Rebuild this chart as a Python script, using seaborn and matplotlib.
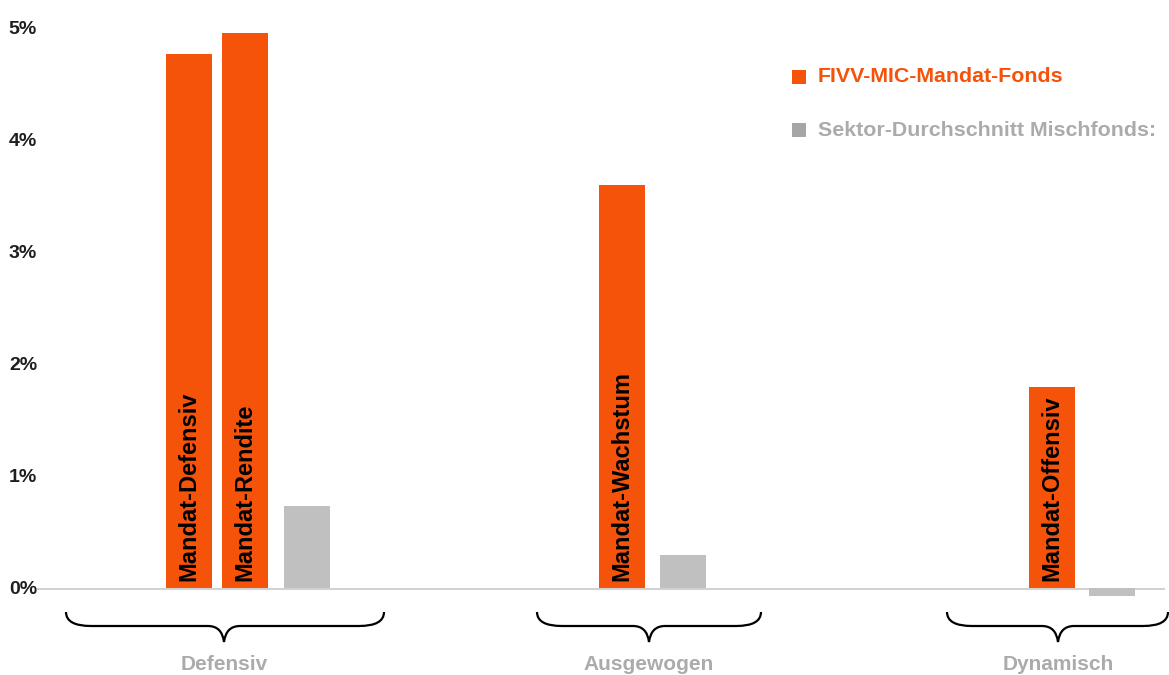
import numpy as np
import pandas as pd
import matplotlib
matplotlib.use("Agg")
import matplotlib.pyplot as plt
import seaborn as sns
from matplotlib.path import Path
from matplotlib.patches import PathPatch

# Values in percent
groups = ["Defensiv", "Ausgewogen", "Dynamisch"]
fund_names = ["Mandat-Defensiv", "Mandat-Rendite", "Mandat-Wachstum", "Mandat-Offensiv"]
fund_values = [4.76, 4.95, 3.59, 1.79]
sector_values = [0.73, 0.29, -0.08]
series_names = ["FIVV-MIC-Mandat-Fonds", "Sektor-Durchschnitt Mischfonds:"]
yticks = [0, 1, 2, 3, 4, 5]

# Layout (figure pixel units)
fund_pos = [189, 245, 622, 1052]
sector_pos = [307, 683, 1112]
brace_spans = [(66, 224, 384), (537, 649, 761), (947, 1058, 1168)]

ORANGE = "#F5520A"
GRAY_BAR = "#C0C0C0"
GRAY_TXT = "#ABABAB"
W, H = 1169, 675
Y0, PX = 587.5, 112  # zero line pixel, pixels per 1 %

df = pd.DataFrame({
    "pos": fund_pos + sector_pos,
    "value": fund_values + sector_values,
    "series": [series_names[0]] * len(fund_values) + [series_names[1]] * len(sector_values),
})

sns.set_theme(style="white")
plt.rcParams["font.family"] = ["Liberation Sans", "DejaVu Sans"]

fig = plt.figure(figsize=(W / 100, H / 100), dpi=100)
# axes spanning pixel x 37..1165, y 20..600
ax = fig.add_axes([37 / W, 1 - 600 / H, (1165 - 37) / W, 580 / H])

sns.barplot(data=df, x="pos", y="value", hue="series", palette=[ORANGE, GRAY_BAR],
            native_scale=True, dodge=False, width=46 / 56, saturation=1,
            linewidth=0, legend=False, ax=ax)

ax.set_xlim(37, 1165)
ax.set_ylim(-(600 - Y0) / PX, (Y0 - 20) / PX)
ax.axhline(-0.01, color="#C8C8C8", lw=1.2, zorder=0.5)
for s in ax.spines.values():
    s.set_visible(False)
ax.set_xticks([])
ax.set_xlabel("")
ax.set_ylabel("")
ax.set_yticks(yticks)
ax.set_yticklabels([f"{v}%" for v in yticks], fontsize=14, fontweight="bold",
                   color="#1E1E1E")
for lbl in ax.get_yticklabels():
    lbl.set_y(lbl.get_position()[1] + 0.02)
ax.tick_params(axis="y", length=0, pad=0)
ax.grid(False)

# vertical labels inside orange bars
for p, name in zip(fund_pos, fund_names):
    ax.text(p, 0.06, name, rotation=90, ha="center", va="bottom",
            fontsize=17, fontweight="bold", color="black")

# overlay in pixel coordinates for braces, group labels and legend
ov = fig.add_axes([0, 0, 1, 1])
ov.set_xlim(0, W)
ov.set_ylim(H, 0)
ov.axis("off")
ov.patch.set_alpha(0)

y_top, y_mid, y_tip = 612, 626, 642
for (x0, xm, x1), g in zip(brace_spans, groups):
    verts = [
        (x0, y_top), (x0, y_mid), (x0 + 25, y_mid),
        (xm - 16, y_mid),
        (xm - 2, y_mid), (xm, y_tip),
        (xm + 2, y_mid), (xm + 16, y_mid),
        (x1 - 25, y_mid),
        (x1, y_mid), (x1, y_top),
    ]
    codes = [Path.MOVETO, Path.CURVE3, Path.CURVE3,
             Path.LINETO,
             Path.CURVE3, Path.CURVE3,
             Path.CURVE3, Path.CURVE3,
             Path.LINETO,
             Path.CURVE3, Path.CURVE3]
    ov.add_patch(PathPatch(Path(verts, codes), fill=False, lw=1.6, color="black"))
    ov.text(xm, 664, g, ha="center", va="center", fontsize=15, fontweight="bold", color=GRAY_TXT)

legend_colors = [ORANGE, "#A6A6A6"]
legend_text_colors = [ORANGE, GRAY_TXT]
for i, (name, mc, tc) in enumerate(zip(series_names, legend_colors, legend_text_colors)):
    y = 77 + i * 53
    ov.scatter([799], [y], marker="s", s=100, color=mc, linewidths=0)
    ov.text(818, y, name, ha="left", va="center", fontsize=15.4, fontweight="bold", color=tc)

fig.savefig("out.png", dpi=100)
